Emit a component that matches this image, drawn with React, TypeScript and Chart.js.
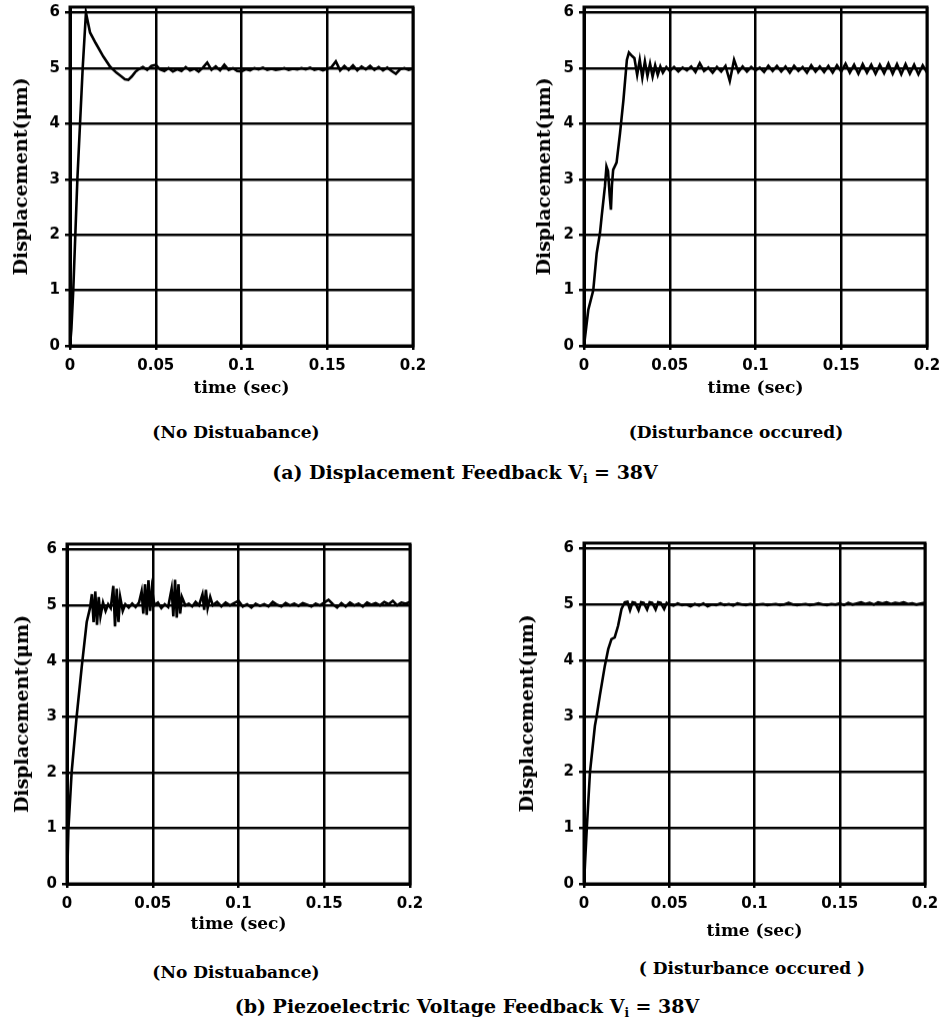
import React, { useEffect, useRef } from "react";
import { Chart, registerables } from "chart.js";

Chart.register(...registerables);

// ---------- axis ticks ----------
const timeTicks = [0, 0.05, 0.1, 0.15, 0.2];
const timeTickLabels = ["0", "0.05", "0.1", "0.15", "0.2"];
const dispTicks = [0, 1, 2, 3, 4, 5, 6];

// ---------- (a) displacement feedback, no disturbance ----------
const tDispNoDist = [
  0, 0.0008, 0.0019, 0.0043, 0.0074, 0.0093, 0.0117, 0.015, 0.0194, 0.0233, 0.027, 0.03, 0.032, 0.034, 0.036, 0.038,
  0.04, 0.0425, 0.045, 0.0475, 0.05, 0.0525, 0.055, 0.0575, 0.06, 0.0625, 0.065, 0.0675, 0.07, 0.0725, 0.075, 0.0775,
  0.08, 0.0825, 0.085, 0.0875, 0.09, 0.0925, 0.095, 0.0975, 0.1, 0.1025, 0.105, 0.1075, 0.11, 0.1125, 0.115, 0.1175,
  0.12, 0.1225, 0.125, 0.1275, 0.13, 0.1325, 0.135, 0.1375, 0.14, 0.1425, 0.145, 0.1475, 0.15, 0.1525, 0.155, 0.1575,
  0.16, 0.1625, 0.165, 0.1675, 0.17, 0.1725, 0.175, 0.1775, 0.18, 0.1825, 0.185, 0.1875, 0.19, 0.1925, 0.195, 0.1975, 0.2,
];
const yDispNoDist = [
  0, 0.3, 1.0, 3.0, 5.0, 6.0, 5.64, 5.45, 5.21, 5.03, 4.92, 4.85, 4.8, 4.79, 4.85, 4.93,
  4.98, 5.02, 4.97, 5.04, 5.06, 4.98, 4.95, 5.0, 4.94, 4.98, 4.95, 5.02, 4.96, 4.99, 4.94, 5.01,
  5.1, 4.97, 5.03, 4.96, 5.06, 4.97, 5.0, 4.95, 4.94, 4.98, 4.96, 5.0, 4.98, 5.01, 4.97, 4.99,
  4.97, 4.98, 5.0, 4.97, 4.99, 4.98, 5.0, 4.98, 5.01, 4.97, 4.99, 4.96, 4.99, 5.02, 5.12, 4.96,
  5.04, 4.97, 5.05, 4.96, 5.03, 4.98, 5.04, 4.97, 5.02, 4.96, 5.01, 4.95, 4.9, 4.98, 5.0, 4.97, 4.99,
];

// ---------- (a) displacement feedback, disturbance occurred ----------
const tDispDist = [
  0, 0.0025, 0.0054, 0.0074, 0.0093, 0.0103, 0.0122, 0.0131, 0.014, 0.015, 0.0157, 0.0163, 0.017, 0.019, 0.021, 0.023,
  0.025, 0.0262, 0.028, 0.0294, 0.031, 0.0325, 0.034, 0.0355, 0.037, 0.0385, 0.04, 0.0415, 0.043, 0.0445, 0.046, 0.048, 0.05,
  0.0525, 0.055, 0.0575, 0.06, 0.0625, 0.065, 0.0675, 0.07, 0.0725, 0.075, 0.0775, 0.08, 0.0825, 0.085, 0.0875, 0.09,
  0.0925, 0.095, 0.0975, 0.1, 0.1025, 0.105, 0.1075, 0.11, 0.1125, 0.115, 0.1175, 0.12, 0.1225, 0.125, 0.1275, 0.13,
  0.1325, 0.135, 0.1375, 0.14, 0.1425, 0.145, 0.1475, 0.15, 0.1525, 0.155, 0.1575, 0.16, 0.1625, 0.165, 0.1675, 0.17,
  0.1725, 0.175, 0.1775, 0.18, 0.1825, 0.185, 0.1875, 0.19, 0.1925, 0.195, 0.1975, 0.2,
];
const yDispDist = [
  0, 0.65, 1.0, 1.67, 2.03, 2.33, 2.87, 3.23, 3.15, 2.7, 2.45, 2.9, 3.17, 3.3, 3.83, 4.43,
  5.15, 5.28, 5.22, 5.18, 4.88, 5.15, 4.83, 5.12, 4.86, 5.08, 4.85, 5.05, 4.88, 5.03, 4.92, 5.02, 4.95,
  5.02, 4.94, 5.01, 4.96, 5.03, 4.93, 5.09, 4.95, 5.01, 4.92, 5.02, 4.94, 5.04, 4.77, 5.15, 4.93,
  5.03, 4.94, 5.02, 4.96, 5.01, 4.93, 5.04, 4.95, 5.04, 4.94, 5.03, 4.92, 5.04, 4.95, 5.02, 4.92,
  5.05, 4.94, 5.03, 4.93, 5.04, 4.92, 5.05, 4.94, 5.08, 4.92, 5.06, 4.9, 5.07, 4.92, 5.06, 4.9,
  5.06, 4.91, 5.08, 4.9, 5.07, 4.89, 5.07, 4.9, 5.06, 4.89, 5.05, 4.92,
];

// ---------- (b) piezoelectric voltage feedback, no disturbance ----------
const tPiezoNoDist = [
  0, 0.0008, 0.0027, 0.0056, 0.0086, 0.0115, 0.0134, 0.0145, 0.0155, 0.0165, 0.0175, 0.0185, 0.0195, 0.021, 0.0225,
  0.024, 0.0255, 0.027, 0.028, 0.029, 0.03, 0.031, 0.0325, 0.034, 0.036, 0.038, 0.04, 0.042, 0.0435, 0.0445, 0.0455,
  0.0465, 0.0475, 0.0485, 0.0495, 0.051, 0.053, 0.055, 0.057, 0.059, 0.061, 0.062, 0.063, 0.064, 0.065, 0.066, 0.067,
  0.069, 0.071, 0.073, 0.075, 0.077, 0.079, 0.08, 0.081, 0.082, 0.0835, 0.085, 0.0875, 0.09, 0.0925, 0.095, 0.0975,
  0.1, 0.1025, 0.105, 0.1075, 0.11, 0.1125, 0.115, 0.1175, 0.12, 0.1225, 0.125, 0.1275, 0.13, 0.1325, 0.135, 0.1375,
  0.14, 0.1425, 0.145, 0.1475, 0.15, 0.1525, 0.155, 0.1575, 0.16, 0.1625, 0.165, 0.1675, 0.17, 0.1725, 0.175, 0.1775,
  0.18, 0.1825, 0.185, 0.1875, 0.19, 0.1925, 0.195, 0.1975, 0.2,
];
const yPiezoNoDist = [
  0, 0.97, 2.0, 3.0, 3.9, 4.7, 4.95, 5.2, 4.7, 5.25, 4.65, 5.15, 4.8, 5.05, 4.9,
  5.02, 4.95, 5.35, 4.62, 5.3, 4.7, 5.15, 4.9, 5.02, 4.96, 5.03, 4.97, 5.05, 5.25, 4.85, 5.38,
  4.83, 5.45, 4.9, 5.3, 5.0, 5.05, 4.95, 5.02, 4.97, 5.3, 4.8, 5.46, 4.78, 5.38, 4.85, 5.15,
  5.0, 5.03, 4.98, 5.06, 5.0, 5.2, 4.92, 5.28, 4.95, 5.15, 5.0, 5.06, 4.98, 5.05, 5.0, 5.04,
  5.08, 4.98, 5.02, 4.96, 5.03, 4.99, 5.02, 4.98, 5.06, 5.01, 4.98, 5.04, 5.0, 5.03, 4.99, 5.04,
  5.01, 4.98, 5.03, 5.0, 5.05, 5.1, 5.02, 4.96, 5.04, 4.98, 5.05, 5.0, 5.03, 4.98, 5.05, 5.01,
  5.04, 5.0, 5.06, 5.02, 5.08, 5.0, 5.05, 5.03, 5.06,
];

// ---------- (b) piezoelectric voltage feedback, disturbance occurred ----------
const tPiezoDist = [
  0, 0.0016, 0.0035, 0.0064, 0.0074, 0.0093, 0.0122, 0.0142, 0.0161, 0.018, 0.02, 0.022, 0.0239,
  0.0255, 0.027, 0.0285, 0.03, 0.032, 0.0335, 0.035, 0.037, 0.0385, 0.04, 0.042, 0.0435, 0.045, 0.047, 0.0485, 0.05,
  0.0525, 0.055, 0.0575, 0.06, 0.0625, 0.065, 0.0675, 0.07, 0.0725, 0.075, 0.0775, 0.08, 0.0825, 0.085, 0.0875, 0.09,
  0.0925, 0.095, 0.0975, 0.1, 0.1025, 0.105, 0.1075, 0.11, 0.1125, 0.115, 0.1175, 0.12, 0.1225, 0.125, 0.1275, 0.13,
  0.1325, 0.135, 0.1375, 0.14, 0.1425, 0.145, 0.1475, 0.15, 0.1525, 0.155, 0.1575, 0.16, 0.1625, 0.165, 0.1675, 0.17,
  0.1725, 0.175, 0.1775, 0.18, 0.1825, 0.185, 0.1875, 0.19, 0.1925, 0.195, 0.1975, 0.2,
];
const yPiezoDist = [
  0, 0.97, 2.0, 2.83, 3.0, 3.37, 3.9, 4.2, 4.38, 4.41, 4.62, 4.92, 5.04,
  5.05, 4.9, 5.04, 5.03, 4.9, 5.04, 5.03, 4.91, 5.04, 5.03, 4.91, 5.04, 5.03, 4.92, 5.03, 5.0,
  4.98, 5.02, 4.99, 5.0, 4.97, 5.01, 4.98, 5.02, 4.97, 5.0, 4.99, 5.02, 4.99, 5.01, 4.98, 5.02,
  5.0, 4.99, 5.01, 4.99, 5.0, 5.01, 4.99, 5.0, 5.01, 4.99, 5.0, 5.03, 5.0, 4.99, 5.0, 5.01,
  4.99, 5.0, 5.02, 5.0, 4.99, 5.01, 5.0, 5.02, 4.99, 5.03, 5.0, 5.02, 5.04, 5.01, 5.03, 5.0,
  5.04, 5.02, 5.04, 5.01, 5.03, 5.02, 5.04, 5.01, 5.02, 5.0, 5.02, 5.03,
];

const TICK_FONT = { family: "'DejaVu Sans', sans-serif", size: 15, weight: "bold" as const };
const XTITLE_FONT = { family: "'DejaVu Serif', serif", size: 17, weight: "bold" as const };
const YTITLE_FONT = { family: "'DejaVu Serif', serif", size: 19, weight: "bold" as const };
const Y_W = 70;
const PAD_T = 20;
const X_H = 60;
const PAD_R = 22;

const framePlugin = {
  id: "frame",
  afterDraw(chart: any) {
    const { ctx, chartArea } = chart;
    ctx.save();
    ctx.strokeStyle = "#000";
    ctx.lineWidth = 3;
    ctx.strokeRect(chartArea.left, chartArea.top, chartArea.right - chartArea.left, chartArea.bottom - chartArea.top);
    ctx.restore();
  },
};

type PanelProps = {
  times: number[];
  values: number[];
  plotLeft: number;
  plotRight: number;
  y0: number;
  y6: number;
  yTitleX: number;
  xTitleY: number;
};

function Panel({ times, values, plotLeft, plotRight, y0, y6, yTitleX, xTitleY }: PanelProps) {
  const ref = useRef<HTMLCanvasElement | null>(null);
  const unit = (y0 - y6) / 6;
  const yTop = y6 - 0.1 * unit;
  const canvasLeft = plotLeft - Y_W;
  const canvasTop = yTop - PAD_T;
  const width = plotRight + PAD_R - canvasLeft;
  const height = y0 - canvasTop + X_H;
  const xLH = XTITLE_FONT.size * 1.2;
  const yLH = YTITLE_FONT.size * 1.2;

  useEffect(() => {
    if (!ref.current) return;
    const points = times.map((t, i) => ({ x: t, y: values[i] }));
    const chart = new Chart(ref.current, {
      type: "line",
      data: {
        datasets: [
          {
            data: points,
            borderColor: "#000",
            borderWidth: 2.6,
            pointRadius: 0,
            tension: 0,
            fill: false,
          },
        ],
      },
      options: {
        animation: false,
        responsive: false,
        maintainAspectRatio: false,
        layout: { padding: { top: PAD_T, right: PAD_R, left: 0, bottom: 0 } },
        plugins: { legend: { display: false }, tooltip: { enabled: false } },
        scales: {
          x: {
            type: "linear",
            min: 0,
            max: 0.2,
            afterBuildTicks: (s: any) => {
              s.ticks = timeTicks.map((v) => ({ value: v }));
            },
            afterFit: (s: any) => {
              s.height = X_H;
            },
            ticks: {
              color: "#000",
              font: TICK_FONT,
              padding: 7,
              maxRotation: 0,
              autoSkip: false,
              callback: (v: any) => {
                const i = timeTicks.indexOf(Number(v));
                return i >= 0 ? timeTickLabels[i] : "";
              },
            },
            grid: { color: "#000", lineWidth: 2.5, tickLength: 4, drawTicks: true },
            border: { display: true, color: "#000", width: 3 },
            title: {
              display: true,
              text: "time (sec)",
              color: "#000",
              font: XTITLE_FONT,
              padding: { top: 0, bottom: y0 + X_H - xLH / 2 - xTitleY },
            },
          },
          y: {
            type: "linear",
            min: 0,
            max: 6.1,
            afterBuildTicks: (s: any) => {
              s.ticks = dispTicks.map((v) => ({ value: v }));
            },
            afterFit: (s: any) => {
              s.width = Y_W;
            },
            ticks: { color: "#000", font: TICK_FONT, padding: 5, autoSkip: false },
            grid: { color: "#000", lineWidth: 2.5, tickLength: 5, drawTicks: true },
            border: { display: true, color: "#000", width: 3 },
            title: {
              display: true,
              text: "Displacement(μm)",
              color: "#000",
              font: YTITLE_FONT,
              padding: { top: yTitleX - canvasLeft - yLH / 2, bottom: 0 },
            },
          },
        },
      },
      plugins: [framePlugin],
    });
    return () => chart.destroy();
  }, []);

  return (
    <canvas
      ref={ref}
      width={width}
      height={height}
      style={{ position: "absolute", left: canvasLeft, top: canvasTop, width, height }}
    />
  );
}

const captionStyle = (x: number, y: number, size: number): React.CSSProperties => ({
  position: "absolute",
  left: x,
  top: y,
  transform: "translate(-50%, -50%)",
  whiteSpace: "nowrap",
  fontFamily: "'DejaVu Serif', serif",
  fontWeight: "bold",
  fontSize: size,
  color: "#000",
  lineHeight: 1,
});

export default function App() {
  return (
    <div style={{ position: "absolute", left: 0, top: 0, width: 949, height: 1022, overflow: "hidden", background: "#fff" }}>
      <Panel times={tDispNoDist} values={yDispNoDist} plotLeft={70} plotRight={413} y0={346} y6={13} yTitleX={22} xTitleY={389} />
      <Panel times={tDispDist} values={yDispDist} plotLeft={584} plotRight={927} y0={346} y6={13} yTitleX={545} xTitleY={389} />
      <Panel times={tPiezoNoDist} values={yPiezoNoDist} plotLeft={67} plotRight={410} y0={884} y6={550} yTitleX={23} xTitleY={925} />
      <Panel times={tPiezoDist} values={yPiezoDist} plotLeft={584} plotRight={925} y0={884} y6={549} yTitleX={528} xTitleY={932} />

      <div style={captionStyle(236, 432, 17)}>(No Distuabance)</div>
      <div style={captionStyle(736, 432, 17)}>(Disturbance occured)</div>
      <div style={captionStyle(465, 474, 19)}>
        (a) Displacement Feedback V<sub style={{ fontSize: 12 }}>i</sub> = 38V
      </div>
      <div style={captionStyle(236, 972, 17)}>(No Distuabance)</div>
      <div style={captionStyle(752, 968, 17)}>( Disturbance occured )</div>
      <div style={captionStyle(467, 1008, 19)}>
        (b) Piezoelectric Voltage Feedback V<sub style={{ fontSize: 12 }}>i</sub> = 38V
      </div>
    </div>
  );
}
